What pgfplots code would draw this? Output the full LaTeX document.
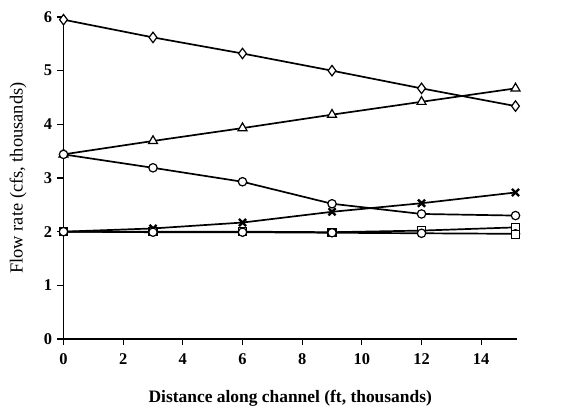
\documentclass[border=0pt]{standalone}
\usepackage{fontspec}
\setmainfont{Liberation Serif}
\usepackage{pgfplots}
\pgfplotsset{compat=1.18}
\begin{document}
\begin{tikzpicture}
\path[use as bounding box] (-63.5bp,-71bp) rectangle (500.5bp,339bp);
\begin{axis}[
  scale only axis,
  width=453.5bp, height=322bp,
  xmin=0, xmax=15.2, ymin=0, ymax=6,
  axis lines=left,
  axis line style={-, line width=1.2bp},
  xtick={0,2,...,14}, ytick={0,1,...,6},
  tick align=outside,
  tick style={black, line width=1.2bp},
  major tick length=6bp,
  /pgf/number format/assume math mode=true,
  xticklabel style={font=\fontsize{16.5}{16.5}\selectfont\bfseries, yshift=-5bp},
  yticklabel style={font=\fontsize{16.5}{16.5}\selectfont\bfseries, xshift=-2bp},
  xlabel={Distance along channel (ft, thousands)},
  ylabel={Flow rate (cfs, thousands)},
  xlabel style={font=\fontsize{17.5}{17.5}\selectfont\bfseries, at={(axis description cs:0.5,0)}, yshift=-59bp, anchor=center},
  ylabel style={font=\fontsize{18.5}{18.5}\selectfont, at={(axis description cs:-0.1003,0.5)}, anchor=center},
  every axis plot/.append style={black, line width=1.7bp, mark options={solid, fill=white, line width=1.2bp}},
  clip=false,
]
\addplot[mark=diamond*, mark size=5.2bp] coordinates {(0,5.95) (3,5.62) (6,5.32) (9,5.0) (12,4.67) (15.15,4.34)};
\addplot[mark=triangle*, mark size=5.2bp] coordinates {(0,3.44) (3,3.69) (6,3.93) (9,4.18) (12,4.42) (15.15,4.67)};
\addplot[mark=*, mark size=4.2bp] coordinates {(0,3.44) (3,3.19) (6,2.93) (9,2.52) (12,2.33) (15.15,2.3)};
\addplot[mark=x, mark size=5bp, mark options={line width=2.4bp}] coordinates {(0,2.0) (3,2.06) (6,2.17) (9,2.37) (12,2.53) (15.15,2.73)};
\addplot[mark=square*, mark size=4bp] coordinates {(0,2.0) (3,2.0) (6,2.0) (9,1.99) (12,2.02) (15.15,2.08)};
\addplot[mark=*, mark size=4.2bp] coordinates {(0,2.0) (3,1.99) (6,1.99) (9,1.98) (12,1.97) (15.15,1.96)};
\addplot[only marks, mark=square*, mark size=4bp] coordinates {(15.15,1.95)};
\end{axis}
\end{tikzpicture}
\end{document}
